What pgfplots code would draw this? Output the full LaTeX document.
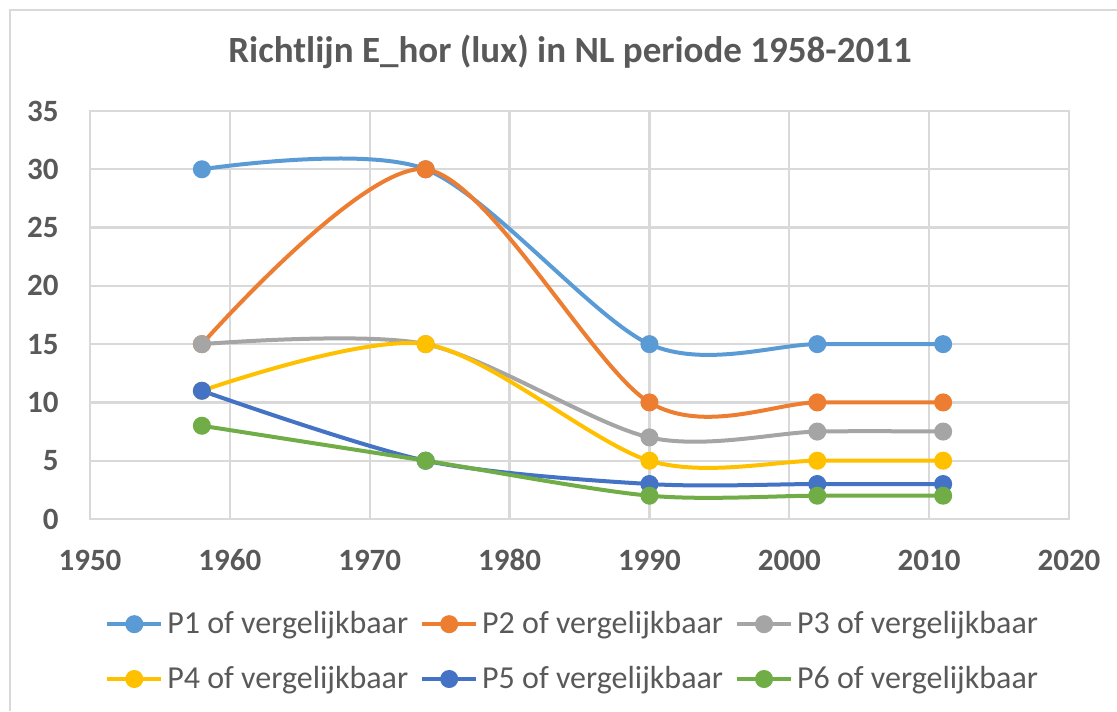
\documentclass[border=0pt]{standalone}
\usepackage{pgfplots}
\pgfplotsset{compat=1.18}
\usepackage{fontspec}
\setmainfont{Carlito}

\definecolor{txt}{HTML}{595959}
\definecolor{gridc}{HTML}{D9D9D9}
\definecolor{cA}{HTML}{5B9BD5}
\definecolor{cB}{HTML}{ED7D31}
\definecolor{cC}{HTML}{A5A5A5}
\definecolor{cD}{HTML}{FFC000}
\definecolor{cE}{HTML}{4472C4}
\definecolor{cF}{HTML}{70AD47}

\begin{document}
\begin{tikzpicture}
  % 1 px of the reference = 0.5pt
  \useasboundingbox (0,0) rectangle (558.5pt,355.5pt);
  \draw[gridc, line width=1.2pt] (5pt,0) -- (5pt,350.5pt) -- (558.5pt,350.5pt);
  \node[txt, font=\fontsize{18.5}{20}\selectfont\bfseries] at (285pt,329.5pt)
    {Richtlijn E\_hor (lux) in NL periode 1958-2011};

  \begin{axis}[
      at={(45pt,96pt)}, anchor=south west,
      scale only axis,
      width=489.5pt, height=204pt,
      xmin=1950, xmax=2020, ymin=0, ymax=35,
      xtick={1950,1960,...,2020}, ytick={0,5,...,35},
      grid=major,
      major grid style={gridc, line width=1.2pt},
      axis line style={gridc, line width=1.2pt},
      major tick length=0pt,
      /pgf/number format/1000 sep={},
      /pgf/number format/assume math mode=true,
      tick label style={txt, font=\fontsize{15.5}{17}\selectfont\bfseries},
      xticklabel style={anchor=center, inner sep=0pt, yshift=-20.5pt},
      yticklabel style={anchor=east, inner sep=0pt, xshift=-15.5pt},
      every axis plot/.append style={line width=2pt, mark=*, mark size=3.5pt, smooth},
      legend columns=3,
      legend cell align=left,
      legend style={draw=none, fill=none, at={(axis description cs:0.494,-0.325)},
        anchor=center, font=\fontsize{16}{18}\selectfont, text=txt,
        /tikz/every even column/.append style={column sep=4pt},
        row sep=10.8pt, inner sep=0pt},
      legend image code/.code={\draw[mark repeat=2, mark phase=2, #1]
        plot coordinates {(0pt,0pt) (13.5pt,0pt) (27pt,0pt)};},
  ]
    \addplot[cA, mark options={fill=cA, draw=cA}] coordinates {(1958,30) (1974,30) (1990,15) (2002,15) (2011,15)};
    \addlegendentry{P1 of vergelijkbaar}
    \addplot[cB, mark options={fill=cB, draw=cB}] coordinates {(1958,15) (1974,30) (1990,10) (2002,10) (2011,10)};
    \addlegendentry{P2 of vergelijkbaar}
    \addplot[cC, mark options={fill=cC, draw=cC}] coordinates {(1958,15) (1974,15) (1990,7) (2002,7.5) (2011,7.5)};
    \addlegendentry{P3 of vergelijkbaar}
    \addplot[cD, mark options={fill=cD, draw=cD}] coordinates {(1958,11) (1974,15) (1990,5) (2002,5) (2011,5)};
    \addlegendentry{P4 of vergelijkbaar}
    \addplot[cE, mark options={fill=cE, draw=cE}] coordinates {(1958,11) (1974,5) (1990,3) (2002,3) (2011,3)};
    \addlegendentry{P5 of vergelijkbaar}
    \addplot[cF, mark options={fill=cF, draw=cF}] coordinates {(1958,8) (1974,5) (1990,2) (2002,2) (2011,2)};
    \addlegendentry{P6 of vergelijkbaar}
  \end{axis}
\end{tikzpicture}
\end{document}
